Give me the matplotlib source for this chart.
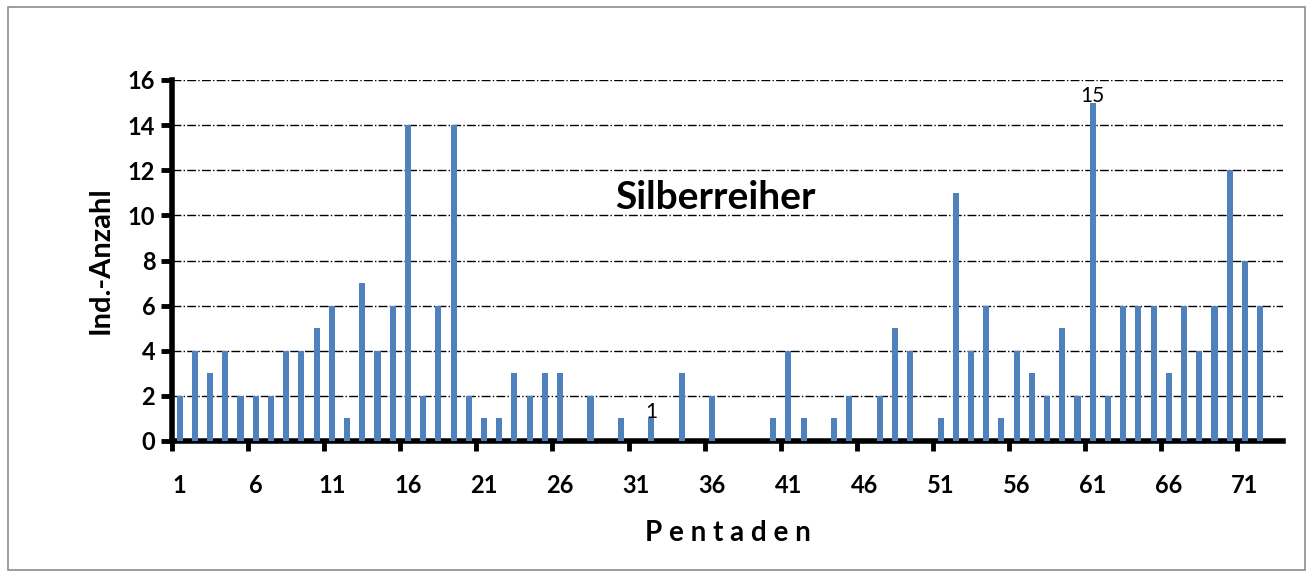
import numpy as np
import matplotlib.pyplot as plt
from matplotlib.patches import Rectangle
from matplotlib.ticker import FixedLocator

plt.rcParams['font.family'] = ['Lato', 'DejaVu Sans']

# Pentaden 1..73 and counts (Silberreiher)
pentaden = list(range(1, 74))
anzahl = [2, 4, 3, 4, 2, 2, 2, 4, 4, 5,
          6, 1, 7, 4, 6, 14, 2, 6, 14, 2,
          1, 1, 3, 2, 3, 3, 0, 2, 0, 1,
          0, 1, 0, 3, 0, 2, 0, 0, 0, 1,
          4, 1, 0, 1, 2, 0, 2, 5, 4, 0,
          1, 11, 4, 6, 1, 4, 3, 2, 5, 2,
          15, 2, 6, 6, 6, 3, 6, 4, 6, 12,
          8, 6, 0]
tick_labels = [str(p) for p in range(1, 72, 5)]
labelled = {32: "1", 61: "15"}

fig = plt.figure(figsize=(13.12, 5.77), dpi=100)
ax = fig.add_axes([172/1312, 1 - 441/577, (1283-172)/1312, (441-80)/577])

ax.bar(pentaden, anzahl, width=0.4, color='#4F81BD', zorder=3)

# data labels
for p, txt in labelled.items():
    ax.text(p, anzahl[p-1] - 0.15, txt, ha='center', va='bottom', fontsize=15, zorder=4)

ax.set_xlim(0.5, 73.5)
ax.set_ylim(0, 16)
ax.set_yticks(np.arange(0, 17, 2))
ax.set_xticks(range(1, 72, 5))
ax.set_xticklabels(tick_labels)
ax.xaxis.set_minor_locator(FixedLocator(np.arange(0.5, 71, 5)))

ax.tick_params(axis='x', which='major', length=0, pad=24, labelsize=17)
ax.tick_params(axis='x', which='minor', length=7, width=3.5, direction='out')
ax.tick_params(axis='y', which='major', length=8, width=3.5, direction='out', labelsize=17, pad=4)
for lab in ax.get_xticklabels() + ax.get_yticklabels():
    lab.set_fontweight('bold')

ax.grid(axis='y', linestyle='-.', color='black', linewidth=1.0, zorder=0)
ax.set_axisbelow(True)

for s in ['top', 'right']:
    ax.spines[s].set_visible(False)
ax.spines['left'].set_linewidth(4)
ax.spines['bottom'].set_linewidth(4)

ax.set_ylabel('Ind.-Anzahl', fontsize=21, fontweight='bold', labelpad=10)
ax.set_xlabel('P e n t a d e n', fontsize=20, fontweight='bold', labelpad=16)

ax.text(0.489, 0.675, 'Silberreiher', transform=ax.transAxes, ha='center', va='center',
        fontsize=28, fontweight='bold')

# outer chart border
fig.patches.append(Rectangle((8/1312, 7/577), (1305-8)/1312, (570-7)/577,
                             transform=fig.transFigure, fill=False,
                             edgecolor='#8c8c8c', linewidth=1.2))

fig.savefig('out.png', dpi=100)
